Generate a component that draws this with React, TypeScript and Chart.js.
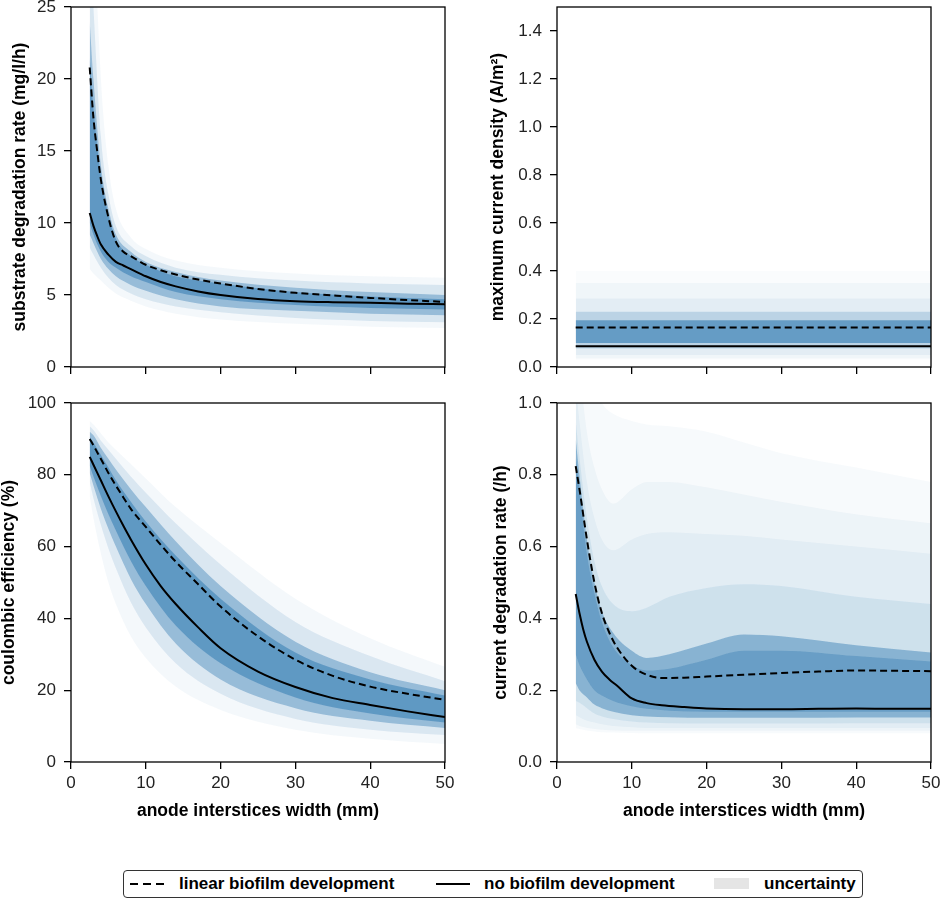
import React, { useEffect, useRef } from "react";
import { Chart, registerables } from "chart.js";

Chart.register(...registerables);

const FONT = "'Liberation Sans', Arial, Helvetica, sans-serif";

// ---------- shared x grids ----------
const xMain = [2.5, 3, 3.5, 4, 5, 6, 7, 8, 10, 12, 14, 17, 20, 25, 30, 35, 40, 45, 50];
const bandX = [2.5, 3, 4, 5, 6, 8, 10, 14, 20, 30, 40, 50];
const cdrBandX = [2.5, 3, 4, 5, 6, 7.5, 10, 12, 15, 20, 25, 30, 40, 50];
const cdX = [2.5, 50];

// ---------- substrate degradation rate ----------
const subLinear = [20.8, 17.3, 15.0, 13.0, 10.4, 8.7, 8.0, 7.7, 7.1, 6.72, 6.42, 6.07, 5.8, 5.42, 5.15, 4.97, 4.8, 4.65, 4.52];
const subNone = [10.7, 9.8, 9.1, 8.5, 7.8, 7.3, 7.05, 6.8, 6.3, 5.9, 5.6, 5.25, 5.0, 4.72, 4.57, 4.5, 4.46, 4.4, 4.35];
const subHi1 = [40, 32, 20, 14, 11, 9.0, 8.2, 7.4, 6.9, 6.5, 6.3, 6.2];
const subHi2 = [30, 25, 16, 12, 9.8, 8.4, 7.7, 6.9, 6.4, 6.0, 5.8, 5.7];
const subHi3 = [24, 20, 14, 11, 9.2, 8.0, 7.3, 6.6, 6.0, 5.5, 5.2, 5.0];
const subHi4 = [21.5, 18, 13.3, 10.6, 8.9, 7.7, 7.1, 6.3, 5.8, 5.2, 4.9, 4.7];
const subLo4 = [10.0, 9.2, 8.0, 7.3, 6.9, 6.3, 5.9, 5.2, 4.7, 4.3, 4.1, 4.0];
const subLo3 = [9.2, 8.6, 7.5, 6.8, 6.3, 5.7, 5.3, 4.7, 4.2, 3.9, 3.7, 3.6];
const subLo2 = [8.3, 7.8, 6.9, 6.2, 5.7, 5.1, 4.7, 4.2, 3.8, 3.4, 3.2, 3.1];
const subLo1 = [6.8, 6.5, 6.0, 5.5, 5.1, 4.6, 4.2, 3.7, 3.3, 3.0, 2.8, 2.7];

// ---------- maximum current density ----------
const cdLinear = [0.165, 0.165];
const cdNone = [0.086, 0.086];
const cdBandHi = [0.40, 0.35, 0.285, 0.23, 0.195];
const cdBandLo = [0.03, 0.035, 0.05, 0.077, 0.10];

// ---------- coulombic efficiency ----------
const ceLinear = [90, 88.2, 86.3, 84.4, 80.5, 77.0, 73.7, 70.5, 65.5, 60.5, 55.8, 49.5, 43.3, 35.0, 28.5, 24.0, 21.0, 19.0, 17.3];
const ceNone = [85, 82.8, 80.6, 78.4, 74.0, 69.8, 65.8, 62.0, 55.0, 49.0, 44.0, 37.5, 31.7, 25.2, 20.9, 17.8, 15.9, 14.1, 12.5];
const ceHi1 = [95, 94, 91.5, 89, 87, 83, 79, 71, 61, 45.5, 34.5, 26.5];
const ceHi2 = [93.5, 92.5, 89.5, 87, 84.5, 79.5, 75, 66.5, 55, 39, 29.5, 22.5];
const ceHi3 = [92, 91, 87.5, 84.5, 81.5, 76, 71, 61.5, 49, 33.5, 25, 20];
const ceHi4 = [90.5, 89, 85.5, 82, 78.5, 72.5, 67, 57.5, 45.5, 30.5, 23, 18.5];
const ceLo4 = [82.5, 79.5, 74, 69, 64.5, 56, 49, 38, 27.5, 18, 13.5, 11];
const ceLo3 = [80.5, 77, 70.5, 65, 60, 51, 44, 33, 23, 15, 11.5, 9.5];
const ceLo2 = [78, 73.5, 66, 59.5, 54, 44.5, 37.5, 27.5, 19, 12, 9, 7.5];
const ceLo1 = [74, 68, 58, 50, 44, 35, 29, 21, 14.5, 9, 6.5, 5];

// ---------- current degradation rate ----------
const cdrLinear = [0.824, 0.76, 0.69, 0.62, 0.50, 0.415, 0.36, 0.32, 0.268, 0.243, 0.234, 0.235, 0.238, 0.243, 0.248, 0.252, 0.255, 0.254, 0.253];
const cdrNone = [0.468, 0.415, 0.37, 0.335, 0.285, 0.252, 0.23, 0.213, 0.177, 0.164, 0.158, 0.153, 0.149, 0.147, 0.147, 0.148, 0.149, 0.148, 0.148];
const cdrHi1 = [1.4, 1.3, 1.15, 1.05, 1.0, 0.97, 0.95, 0.94, 0.935, 0.92, 0.89, 0.86, 0.82, 0.78];
const cdrHi2 = [1.2, 1.1, 0.92, 0.82, 0.76, 0.72, 0.76, 0.78, 0.78, 0.765, 0.745, 0.725, 0.69, 0.665];
const cdrHi3 = [1.05, 0.95, 0.78, 0.68, 0.62, 0.59, 0.62, 0.635, 0.64, 0.635, 0.63, 0.62, 0.6, 0.58];
const cdrHi4 = [0.95, 0.85, 0.68, 0.56, 0.49, 0.44, 0.42, 0.43, 0.46, 0.485, 0.495, 0.49, 0.46, 0.44];
const cdrHi5 = [0.9, 0.8, 0.62, 0.5, 0.42, 0.36, 0.31, 0.29, 0.3, 0.33, 0.355, 0.35, 0.325, 0.305];
const cdrHi6 = [0.85, 0.76, 0.58, 0.47, 0.39, 0.32, 0.27, 0.255, 0.26, 0.285, 0.31, 0.31, 0.295, 0.28];
const cdrLo6 = [0.3, 0.27, 0.23, 0.2, 0.185, 0.17, 0.155, 0.148, 0.143, 0.14, 0.14, 0.14, 0.14, 0.14];
const cdrLo5 = [0.22, 0.2, 0.18, 0.16, 0.15, 0.14, 0.13, 0.127, 0.125, 0.123, 0.123, 0.123, 0.124, 0.124];
const cdrLo4 = [0.17, 0.165, 0.15, 0.135, 0.127, 0.12, 0.113, 0.11, 0.108, 0.107, 0.107, 0.107, 0.108, 0.108];
const cdrLo3 = [0.13, 0.125, 0.115, 0.11, 0.105, 0.1, 0.097, 0.095, 0.095, 0.095, 0.095, 0.095, 0.095, 0.095];
const cdrLo2 = [0.105, 0.1, 0.095, 0.092, 0.09, 0.088, 0.087, 0.087, 0.087, 0.087, 0.087, 0.087, 0.087, 0.087];
const cdrLo1 = [0.095, 0.092, 0.088, 0.085, 0.083, 0.082, 0.081, 0.08, 0.08, 0.08, 0.08, 0.08, 0.08, 0.08];

// ---------- tick / label texts ----------
const xTitle = "anode interstices width (mm)";
const legendLabels = ["linear biofilm development", "no biofilm development", "uncertainty"];

const BASE = "30,110,170";
const TICK_SIZE = 17;
const TITLE_SIZE = 17.5;

type Band = { x: number[]; hi: number[]; lo: number[]; alpha: number };

type Spec = {
  left: number; top: number; w: number; h: number;
  pad: { left: number; top: number; right: number; bottom: number };
  yWidth: number; xHeight: number; yTitlePad: number;
  yMin: number; yMax: number; yStep: number; decimals: number;
  yTitle: string; showX: boolean;
  lineX: number[]; linear: number[]; none: number[];
  bands: Band[];
};

const zip = (xs: number[], ys: number[]) => xs.map((x, i) => ({ x, y: ys[i] }));

const specs: Spec[] = [
  {
    left: 0, top: 0, w: 460, h: 392,
    pad: { left: 0, top: 7, right: 15, bottom: 0 },
    yWidth: 71, xHeight: 25, yTitlePad: 11.25,
    yMin: 0, yMax: 25, yStep: 5, decimals: 0,
    yTitle: "substrate degradation rate (mg/l/h)", showX: false,
    lineX: xMain, linear: subLinear, none: subNone,
    bands: [
      { x: bandX, hi: subHi1, lo: subLo1, alpha: 0.05 },
      { x: bandX, hi: subHi2, lo: subLo2, alpha: 0.13 },
      { x: bandX, hi: subHi3, lo: subLo3, alpha: 0.35 },
      { x: bandX, hi: subHi4, lo: subLo4, alpha: 0.45 },
    ],
  },
  {
    left: 470, top: 0, w: 471, h: 392,
    pad: { left: 0, top: 7, right: 10, bottom: 0 },
    yWidth: 87, xHeight: 25, yTitlePad: 19,
    yMin: 0, yMax: 1.5, yStep: 0.2, decimals: 1,
    yTitle: "maximum current density (A/m²)", showX: false,
    lineX: cdX, linear: cdLinear, none: cdNone,
    bands: [
      { x: cdX, hi: [cdBandHi[0], cdBandHi[0]], lo: [cdBandLo[0], cdBandLo[0]], alpha: 0.025 },
      { x: cdX, hi: [cdBandHi[1], cdBandHi[1]], lo: [cdBandLo[1], cdBandLo[1]], alpha: 0.045 },
      { x: cdX, hi: [cdBandHi[2], cdBandHi[2]], lo: [cdBandLo[2], cdBandLo[2]], alpha: 0.06 },
      { x: cdX, hi: [cdBandHi[3], cdBandHi[3]], lo: [cdBandLo[3], cdBandLo[3]], alpha: 0.2 },
      { x: cdX, hi: [cdBandHi[4], cdBandHi[4]], lo: [cdBandLo[4], cdBandLo[4]], alpha: 0.55 },
    ],
  },
  {
    left: 0, top: 385, w: 460, h: 439,
    pad: { left: 0, top: 18, right: 15, bottom: 0 },
    yWidth: 71, xHeight: 62, yTitlePad: 0.75,
    yMin: 0, yMax: 100, yStep: 20, decimals: 0,
    yTitle: "coulombic efficiency (%)", showX: true,
    lineX: xMain, linear: ceLinear, none: ceNone,
    bands: [
      { x: bandX, hi: ceHi1, lo: ceLo1, alpha: 0.05 },
      { x: bandX, hi: ceHi2, lo: ceLo2, alpha: 0.12 },
      { x: bandX, hi: ceHi3, lo: ceLo3, alpha: 0.36 },
      { x: bandX, hi: ceHi4, lo: ceLo4, alpha: 0.45 },
    ],
  },
  {
    left: 470, top: 385, w: 471, h: 439,
    pad: { left: 0, top: 18, right: 10, bottom: 0 },
    yWidth: 87, xHeight: 62, yTitlePad: 22,
    yMin: 0, yMax: 1.0, yStep: 0.2, decimals: 1,
    yTitle: "current degradation rate (/h)", showX: true,
    lineX: xMain, linear: cdrLinear, none: cdrNone,
    bands: [
      { x: cdrBandX, hi: cdrHi1, lo: cdrLo1, alpha: 0.035 },
      { x: cdrBandX, hi: cdrHi2, lo: cdrLo2, alpha: 0.045 },
      { x: cdrBandX, hi: cdrHi3, lo: cdrLo3, alpha: 0.05 },
      { x: cdrBandX, hi: cdrHi4, lo: cdrLo4, alpha: 0.1 },
      { x: cdrBandX, hi: cdrHi5, lo: cdrLo5, alpha: 0.4 },
      { x: cdrBandX, hi: cdrHi6, lo: cdrLo6, alpha: 0.3 },
    ],
  },
];

const framePlugin = {
  id: "frame",
  afterDatasetsDraw(chart: any) {
    const { ctx, chartArea } = chart;
    const { left, top, right, bottom } = chartArea;
    ctx.save();
    ctx.strokeStyle = "#000";
    ctx.lineWidth = 1.3;
    ctx.strokeRect(left, top, right - left, bottom - top);
    ctx.restore();
  },
};

function buildConfig(s: Spec): any {
  const datasets: any[] = [];
  s.bands.forEach((b) => {
    datasets.push({
      data: zip(b.x, b.hi),
      fill: "+1",
      backgroundColor: `rgba(${BASE},${b.alpha})`,
      borderColor: "rgba(0,0,0,0)",
      borderWidth: 0,
      pointRadius: 0,
      cubicInterpolationMode: "monotone",
      order: 2,
    });
    datasets.push({
      data: zip(b.x, b.lo),
      fill: false,
      borderColor: "rgba(0,0,0,0)",
      borderWidth: 0,
      pointRadius: 0,
      cubicInterpolationMode: "monotone",
      order: 2,
    });
  });
  datasets.push({
    label: legendLabels[0],
    data: zip(s.lineX, s.linear),
    fill: false,
    borderColor: "#000",
    borderWidth: 2,
    borderDash: [7, 4],
    pointRadius: 0,
    cubicInterpolationMode: "monotone",
    order: 0,
  });
  datasets.push({
    label: legendLabels[1],
    data: zip(s.lineX, s.none),
    fill: false,
    borderColor: "#000",
    borderWidth: 2,
    pointRadius: 0,
    cubicInterpolationMode: "monotone",
    order: 0,
  });

  const grid = {
    display: true,
    drawOnChartArea: false,
    drawTicks: true,
    tickLength: 7,
    color: "#000",
    lineWidth: 1.3,
  };

  return {
    type: "line",
    data: { datasets },
    plugins: [framePlugin],
    options: {
      animation: false,
      responsive: false,
      maintainAspectRatio: false,
      layout: { padding: s.pad },
      plugins: { legend: { display: false }, tooltip: { enabled: false } },
      scales: {
        x: {
          type: "linear",
          min: 0,
          max: 50,
          ticks: {
            stepSize: 10,
            display: s.showX,
            font: { family: FONT, size: TICK_SIZE },
            color: "#222",
            padding: 4,
            maxRotation: 0,
          },
          grid,
          border: { display: false },
          title: {
            display: s.showX,
            text: xTitle,
            font: { family: FONT, size: TITLE_SIZE, weight: "bold", lineHeight: 1 },
            color: "#000",
            padding: { top: 4, bottom: 4.25 },
          },
          afterFit: (sc: any) => {
            sc.height = s.xHeight;
            sc.paddingLeft = 0;
            sc.paddingRight = 0;
          },
        },
        y: {
          type: "linear",
          min: s.yMin,
          max: s.yMax,
          ticks: {
            stepSize: s.yStep,
            includeBounds: false,
            font: { family: FONT, size: TICK_SIZE },
            color: "#222",
            padding: 8,
            callback: (v: any) => Number(v).toFixed(s.decimals),
          },
          grid,
          border: { display: false },
          title: {
            display: true,
            text: s.yTitle,
            font: { family: FONT, size: TITLE_SIZE, weight: "bold", lineHeight: 1 },
            color: "#000",
            padding: { top: s.yTitlePad, bottom: 0 },
          },
          afterFit: (sc: any) => {
            sc.width = s.yWidth;
            sc.paddingTop = 0;
            sc.paddingBottom = 0;
          },
        },
      },
    },
  };
}

function Panel({ spec }: { spec: Spec }) {
  const ref = useRef<HTMLCanvasElement>(null);
  useEffect(() => {
    if (!ref.current) return;
    const chart = new Chart(ref.current, buildConfig(spec));
    return () => chart.destroy();
  }, [spec]);
  return (
    <canvas
      ref={ref}
      width={spec.w}
      height={spec.h}
      style={{ position: "absolute", left: spec.left, top: spec.top, width: spec.w, height: spec.h }}
    />
  );
}

function Legend() {
  const text: React.CSSProperties = {
    position: "absolute",
    top: 0,
    height: 26,
    lineHeight: "26px",
    fontFamily: FONT,
    fontWeight: "bold",
    fontSize: 17,
    color: "#000",
    whiteSpace: "nowrap",
  };
  return (
    <div
      style={{
        position: "absolute",
        left: 123,
        top: 870,
        width: 738,
        height: 26,
        border: "1.5px solid #333",
        borderRadius: 4,
        background: "#fff",
      }}
    >
      <svg style={{ position: "absolute", left: 5, top: 0 }} width={36} height={26}>
        <line x1={1} y1={13} x2={35} y2={13} stroke="#000" strokeWidth={2} strokeDasharray="8 5" />
      </svg>
      <div style={{ ...text, left: 55 }}>{legendLabels[0]}</div>
      <svg style={{ position: "absolute", left: 311, top: 0 }} width={36} height={26}>
        <line x1={1} y1={13} x2={35} y2={13} stroke="#000" strokeWidth={2} />
      </svg>
      <div style={{ ...text, left: 360 }}>{legendLabels[1]}</div>
      <div style={{ position: "absolute", left: 590, top: 7, width: 35, height: 11, background: "#e5e5e5" }} />
      <div style={{ ...text, left: 640 }}>{legendLabels[2]}</div>
    </div>
  );
}

export default function App() {
  return (
    <div style={{ position: "fixed", left: 0, top: 0, width: 941, height: 902, background: "#fff", overflow: "hidden" }}>
      {specs.map((s, i) => (
        <Panel key={i} spec={s} />
      ))}
      <Legend />
    </div>
  );
}
